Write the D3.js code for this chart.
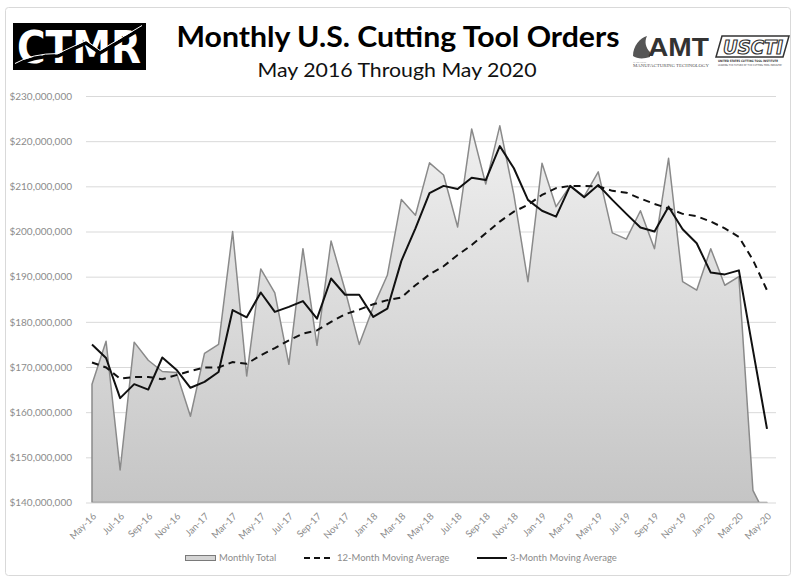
<!DOCTYPE html>
<html>
<head>
<meta charset="utf-8">
<script src="https://cdn.jsdelivr.net/npm/d3@7"></script>
<style>
  body { margin: 0; background: #fff; }
  svg { display: block; font-family: Lato, "Open Sans", sans-serif; }
</style>
</head>
<body>
<div id="chart"></div>
<script>
// values in millions of dollars
const months = [
  "May-16", "Jun-16", "Jul-16", "Aug-16", "Sep-16", "Oct-16", "Nov-16", "Dec-16",
  "Jan-17", "Feb-17", "Mar-17", "Apr-17", "May-17", "Jun-17", "Jul-17", "Aug-17", "Sep-17", "Oct-17", "Nov-17", "Dec-17",
  "Jan-18", "Feb-18", "Mar-18", "Apr-18", "May-18", "Jun-18", "Jul-18", "Aug-18", "Sep-18", "Oct-18", "Nov-18", "Dec-18",
  "Jan-19", "Feb-19", "Mar-19", "Apr-19", "May-19", "Jun-19", "Jul-19", "Aug-19", "Sep-19", "Oct-19", "Nov-19", "Dec-19",
  "Jan-20", "Feb-20", "Mar-20", "Apr-20", "May-20"
];

const monthlyTotal = [
  166.2, 175.7, 147.2, 175.5, 171.5, 169.0, 168.8, 159.1,
  173.0, 175.0, 200.0, 168.0, 191.7, 186.4, 170.6, 196.2, 174.8, 197.9, 187.0, 175.0,
  183.3, 190.3, 207.1, 203.6, 215.2, 212.5, 201.0, 222.7, 210.5, 223.4, 208.1, 188.9,
  215.1, 205.5, 210.1, 207.8, 213.2, 199.7, 198.3, 204.6, 196.2, 216.2, 188.9, 187.0,
  196.2, 188.1, 190.0, 142.7, 136.5
];

const avg12 = [
  171.0, 169.9, 167.4, 167.8, 167.8, 167.3, 168.2, 169.1,
  169.9, 169.9, 171.1, 170.7, 172.6, 174.2, 175.9, 177.4, 178.1, 180.0, 181.7, 182.7,
  183.9, 184.8, 185.4, 188.1, 190.5, 192.3, 194.8, 197.0, 199.6, 202.2, 204.4, 205.9,
  208.1, 209.6, 210.1, 210.1, 210.0, 209.0, 208.6, 207.3, 206.1, 205.1, 203.9, 203.4,
  202.2, 200.7, 198.8, 193.7, 187.0
];

const avg3 = [
  175.0, 172.0, 163.1, 166.2, 165.0, 172.1, 169.4, 165.4,
  166.7, 168.9, 182.6, 181.0, 186.5, 182.2, 183.3, 184.6, 180.7, 189.6, 186.0, 186.0,
  181.1, 182.9, 193.5, 200.7, 208.5, 210.1, 209.4, 211.9, 211.4, 218.9, 214.0, 207.0,
  204.6, 203.3, 210.1, 207.6, 210.3, 207.0, 203.9, 200.9, 200.0, 205.5, 200.5, 197.4,
  190.9, 190.5, 191.4, 173.8, 156.3
];

const yTicks = [140, 150, 160, 170, 180, 190, 200, 210, 220, 230];
const xTickLabels = months.filter((d, i) => i % 2 === 0);

const legendItems = ["Monthly Total", "12-Month Moving Average", "3-Month Moving Average"];

const W = 800, H = 585;
const plot = { left: 86, right: 776, top: 96, bottom: 502.5 };

const svg = d3.select("#chart")
  .append("svg")
  .attr("width", W)
  .attr("height", H);

// outer frame
svg.append("rect")
  .attr("x", 5.5)
  .attr("y", 7.5)
  .attr("width", 785)
  .attr("height", 568)
  .attr("rx", 3)
  .attr("fill", "#fff")
  .attr("stroke", "#d9d9d9");

const x = d3.scalePoint().domain(months).range([92, 767]);
const y = d3.scaleLinear().domain([140, 230]).range([plot.bottom, plot.top]);

const defs = svg.append("defs");
const grad = defs.append("linearGradient")
  .attr("id", "areaGrad")
  .attr("gradientUnits", "userSpaceOnUse")
  .attr("x1", 0).attr("x2", 0)
  .attr("y1", plot.top).attr("y2", plot.bottom);
grad.append("stop").attr("offset", "0%").attr("stop-color", "#f3f3f3");
grad.append("stop").attr("offset", "100%").attr("stop-color", "#c5c5c5");

defs.append("clipPath")
  .attr("id", "plotClip")
  .append("rect")
  .attr("x", plot.left)
  .attr("y", plot.top - 5)
  .attr("width", plot.right - plot.left)
  .attr("height", plot.bottom - plot.top + 5);

// y axis + gridlines
const yAxis = svg.append("g")
  .attr("transform", `translate(${plot.left},0)`)
  .call(d3.axisLeft(y)
    .tickValues(yTicks)
    .tickSize(-(plot.right - plot.left))
    .tickPadding(14)
    .tickFormat((d) => "$" + d3.format(",")(d * 1e6)));
yAxis.select(".domain").remove();
yAxis.selectAll(".tick line").attr("stroke", "#d9d9d9");
yAxis.selectAll(".tick text")
  .attr("fill", "#8c8c8c")
  .style("font", "10px Lato, sans-serif");

// x axis labels
const xAxis = svg.append("g")
  .attr("transform", `translate(0,${plot.bottom})`)
  .call(d3.axisBottom(x).tickValues(xTickLabels).tickSize(0));
xAxis.select(".domain").remove();
xAxis.selectAll(".tick text")
  .attr("fill", "#8c8c8c")
  .style("font", "9.5px Lato, sans-serif")
  .attr("text-anchor", "end")
  .attr("y", 0)
  .attr("dy", "0.35em")
  .attr("transform", "translate(2,12) rotate(-45)");

// series
const chart = svg.append("g").attr("clip-path", "url(#plotClip)");

const area = d3.area()
  .x((d, i) => x(months[i]))
  .y0(y(140))
  .y1((d) => y(d));

chart.append("path")
  .datum(monthlyTotal)
  .attr("d", area)
  .attr("fill", "url(#areaGrad)")
  .attr("stroke", "#8a8a8a")
  .attr("stroke-width", 1.5)
  .attr("stroke-linejoin", "round");

const line = d3.line()
  .x((d, i) => x(months[i]))
  .y((d) => y(d));

chart.append("path")
  .datum(avg12)
  .attr("d", line)
  .attr("fill", "none")
  .attr("stroke", "#111")
  .attr("stroke-width", 2)
  .attr("stroke-dasharray", "7,5");

chart.append("path")
  .datum(avg3)
  .attr("d", line)
  .attr("fill", "none")
  .attr("stroke", "#111")
  .attr("stroke-width", 2)
  .attr("stroke-linejoin", "round");

// legend
const legend = svg.append("g").attr("transform", "translate(0,558)");

legend.append("rect")
  .attr("x", 185.5).attr("y", -2.5)
  .attr("width", 30).attr("height", 5)
  .attr("fill", "#d4d4d4")
  .attr("stroke", "#7a7a7a");
legend.append("line")
  .attr("x1", 304).attr("x2", 334)
  .attr("stroke", "#111").attr("stroke-width", 2)
  .attr("stroke-dasharray", "6,4");
legend.append("line")
  .attr("x1", 477).attr("x2", 507)
  .attr("stroke", "#111").attr("stroke-width", 2);

legend.selectAll("text.leg")
  .data(legendItems)
  .join("text")
  .attr("class", "leg")
  .attr("x", (d, i) => [219, 337, 510][i])
  .attr("y", 0)
  .attr("dy", "0.35em")
  .attr("fill", "#8c8c8c")
  .style("font", "9.5px Lato, sans-serif")
  .text((d) => d);

// titles
svg.append("text")
  .attr("x", 398)
  .attr("y", 47)
  .attr("text-anchor", "middle")
  .attr("textLength", 443)
  .attr("lengthAdjust", "spacingAndGlyphs")
  .style("font", "bold 29px Lato, sans-serif")
  .attr("fill", "#000")
  .text("Monthly U.S. Cutting Tool Orders");

svg.append("text")
  .attr("x", 397)
  .attr("y", 77)
  .attr("text-anchor", "middle")
  .attr("textLength", 279)
  .attr("lengthAdjust", "spacingAndGlyphs")
  .style("font", "20px Lato, sans-serif")
  .attr("fill", "#111")
  .text("May 2016 Through May 2020");

// CTMR logo
const ctmr = svg.append("g");
ctmr.append("rect")
  .attr("x", 13).attr("y", 23)
  .attr("width", 133).attr("height", 47)
  .attr("fill", "#000");
ctmr.append("text")
  .attr("x", 17).attr("y", 63)
  .attr("textLength", 124)
  .attr("lengthAdjust", "spacingAndGlyphs")
  .style("font", "bold 45px 'DejaVu Sans', sans-serif")
  .attr("fill", "#fff")
  .text("CTMR");
const swoosh = "M15,66 Q32,56 58,56 L86,43 L100,53 L142,28";
ctmr.append("path")
  .attr("d", swoosh)
  .attr("fill", "none")
  .attr("stroke", "#000")
  .attr("stroke-width", 3.5);
ctmr.append("path")
  .attr("d", swoosh)
  .attr("fill", "none")
  .attr("stroke", "#fff")
  .attr("stroke-width", 1)
  .attr("transform", "translate(0,-2.5)");

// AMT logo
const amt = svg.append("g");
amt.append("path")
  .attr("d", "M633,56 C633,46 640,38 647,36 C644,42 646,48 650,52 L650,57 C644,59 637,59 633,56 Z")
  .attr("fill", "#555");
amt.append("text")
  .attr("x", 648).attr("y", 56)
  .attr("textLength", 61)
  .attr("lengthAdjust", "spacingAndGlyphs")
  .style("font", "bold 25px 'Liberation Sans', sans-serif")
  .attr("fill", "#333")
  .text("AMT");
amt.append("text")
  .attr("x", 633).attr("y", 62.5)
  .attr("textLength", 13)
  .attr("lengthAdjust", "spacingAndGlyphs")
  .style("font", "2.4px 'Liberation Serif', serif")
  .attr("fill", "#666")
  .text("THE ASSOCIATION FOR");
amt.append("text")
  .attr("x", 633).attr("y", 67)
  .attr("textLength", 76)
  .attr("lengthAdjust", "spacingAndGlyphs")
  .style("font", "5px 'Liberation Serif', serif")
  .attr("fill", "#555")
  .text("MANUFACTURING TECHNOLOGY");

// USCTI logo
const uscti = svg.append("g");
uscti.append("path")
  .attr("d", "M722,36 L789,36 L783,57 L716,57 Z")
  .attr("fill", "#fff")
  .attr("stroke", "#333")
  .attr("stroke-width", 1.5);
uscti.append("text")
  .attr("x", 723).attr("y", 54)
  .attr("textLength", 60)
  .attr("lengthAdjust", "spacingAndGlyphs")
  .style("font", "italic 900 19px 'DejaVu Sans', sans-serif")
  .attr("fill", "#fff")
  .attr("stroke", "#333")
  .attr("stroke-width", 1.2)
  .text("USCTI");
uscti.append("text")
  .attr("x", 718).attr("y", 62)
  .attr("textLength", 60)
  .attr("lengthAdjust", "spacingAndGlyphs")
  .style("font", "bold 3.2px 'DejaVu Sans', sans-serif")
  .attr("fill", "#333")
  .text("UNITED STATES CUTTING TOOL INSTITUTE");
uscti.append("text")
  .attr("x", 718).attr("y", 66)
  .attr("textLength", 64)
  .attr("lengthAdjust", "spacingAndGlyphs")
  .style("font", "2.6px 'DejaVu Sans', sans-serif")
  .attr("fill", "#444")
  .text("LEADING THE FUTURE OF THE CUTTING TOOL INDUSTRY");
</script>
</body>
</html>
